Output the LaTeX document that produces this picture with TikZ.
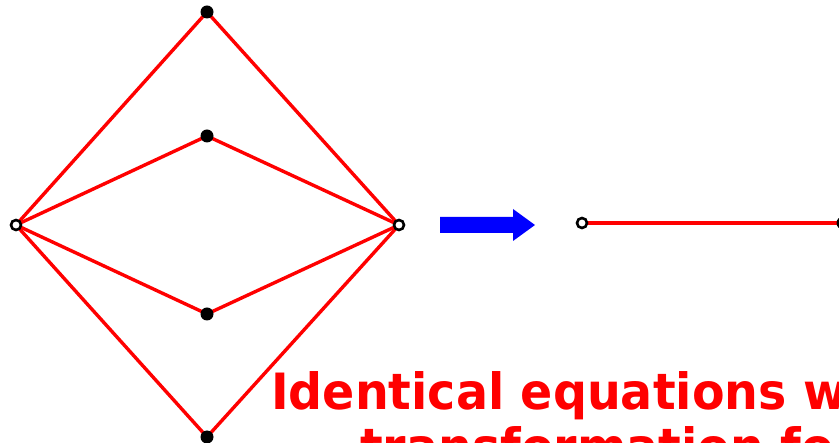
\documentclass[tikz,border=0pt]{standalone}
\usepackage{fontspec}
\setmainfont{DejaVu Sans}
\newfontfamily\lblfont{DejaVu Sans}[FakeStretch=0.95]
\begin{document}
\begin{tikzpicture}[x=1pt,y=-1pt,
  edge/.style={draw=red,line width=3.4pt},
  fulldot/.style={circle,fill=black,inner sep=0pt,minimum size=13pt},
  opendot/.style={circle,draw=black,fill=white,line width=2.6pt,inner sep=0pt,minimum size=10pt},
  label/.style={text=red,font=\lblfont\fontsize{50}{60}\selectfont\bfseries,anchor=base west,inner sep=0pt}]
\useasboundingbox[clip] (0,0) rectangle (839,443);
\coordinate (L) at (16,225);
\coordinate (R) at (399,225);
\coordinate (T) at (207,12);
\coordinate (M1) at (207,136);
\coordinate (M2) at (207,314);
\coordinate (B) at (207,437);
\draw[edge] (L) -- (T) -- (R);
\draw[edge] (L) -- (M1) -- (R);
\draw[edge] (L) -- (M2) -- (R);
\draw[edge] (L) -- (B) -- (R);
\node[fulldot] (t) at (T) {};
\node[fulldot] (m1) at (M1) {};
\node[fulldot] (m2) at (M2) {};
\node[fulldot] (b) at (B) {};
\node[opendot] (l) at (L) {};
\node[opendot] (r) at (R) {};
\fill[blue] (440,217) -- (513,217) -- (513,209) -- (535,225) -- (513,241) -- (513,233) -- (440,233) -- cycle;
\coordinate (A) at (582,223);
\coordinate (C) at (843,223);
\draw[edge] (A) -- (C);
\node[fulldot] (c) at (C) {};
\node[opendot] (a) at (A) {};
\node[label] (t1) at (271,410) {Identical equations w};
\node[label] (t2) at (360,465) {transformation fo};
\end{tikzpicture}
\end{document}
